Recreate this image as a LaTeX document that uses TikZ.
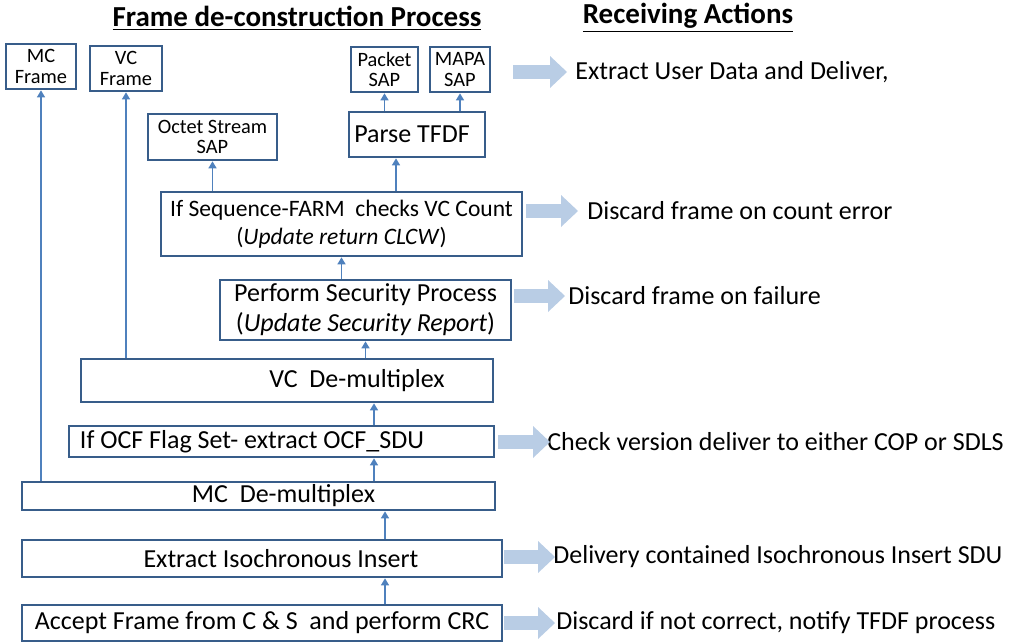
\documentclass[tikz,border=0pt]{standalone}
\usepackage{fontspec}
\setmainfont{Carlito}
\usetikzlibrary{calc,arrows.meta}
\definecolor{boxblue}{RGB}{56,93,138}
\definecolor{lineblue}{RGB}{79,129,189}
\definecolor{fatblue}{RGB}{185,205,229}
\def\bigtext{\fontsize{14.8}{17}\selectfont}
\def\smalltext{\fontsize{11.6}{11.8}\selectfont}
\tikzset{
  box/.style={draw=boxblue, line width=1.5pt, inner sep=0pt, align=center, font=\bigtext},
  sapbox/.style={box, font=\smalltext},
  flow/.style={draw=lineblue, line width=1.1pt, -{Triangle[length=4pt,width=4.5pt]}},
  fat/.style={draw=fatblue, line width=0.29cm, -{Triangle[length=0.34cm,width=0.64cm,line width=0pt 0]}},
  act/.style={anchor=west, inner sep=0pt, font=\bigtext},
  heading/.style={font=\fontsize{16.5}{18}\selectfont\bfseries}
}
\begin{document}
\begin{tikzpicture}[x=0.02cm, y=-0.02cm]
  \useasboundingbox (0,0) rectangle (1011,643);
  \node[heading] (h1) at (297,18) {\underline{Frame de-construction Process}};
  \node[heading] (h2) at (688,18) {\underline{Receiving Actions}};

  \node[box, minimum width=9.6cm, minimum height=0.72cm] (acc) at (262,623) {Accept Frame from C \& S\ \ and perform CRC};
  \node[box, minimum width=9.6cm, minimum height=0.74cm] (iso) at (262,558.5) {\hspace*{0.76cm}Extract Isochronous Insert};
  \node[box, minimum width=9.46cm, minimum height=0.56cm] (mcd) at (258.5,496) {\hspace*{1cm}MC\ \ De-multiplex};
  \node[box, minimum width=8.5cm, minimum height=0.62cm] (ocf) at (281.5,441.5) {If OCF Flag Set- extract OCF\_SDU\hspace*{1.18cm}};
  \node[box, minimum width=8.24cm, minimum height=0.86cm] (vcd) at (287,380.5) {\hspace*{2.8cm}VC\ \ De-multiplex};
  \node[box, minimum width=5.82cm, minimum height=1.2cm, font=\fontsize{14.8}{17}\selectfont] (sec) at (365.5,310) {Perform Security Process\\(\textit{Update Security Report})};
  \node[box, minimum width=7.22cm, minimum height=1.28cm, font=\fontsize{13.4}{16}\selectfont] (farm) at (341.5,224) {If Sequence-FARM\ \ checks VC Count\\(\textit{Update return CLCW})};
  \node[sapbox, minimum width=2.58cm, minimum height=0.92cm] (octet) at (212.5,137) {Octet Stream\\SAP};
  \node[box, minimum width=2.72cm, minimum height=0.9cm] (parse) at (417,134.5) {Parse TFDF\hspace*{0.2cm}};
  \node[sapbox, minimum width=1.34cm, minimum height=0.9cm] (pkt) at (384.5,69.5) {Packet\\SAP};
  \node[sapbox, minimum width=1.2cm, minimum height=0.9cm] (mapa) at (460,69.5) {MAPA\\SAP};
  \node[sapbox, minimum width=1.4cm, minimum height=0.9cm] (mcf) at (41,66.5) {MC\\Frame};
  \node[sapbox, minimum width=1.44cm, minimum height=0.9cm] (vcf) at (126,68.5) {VC\\Frame};

  \coordinate (up1) at (374,0);
  \coordinate (up2) at (385,0);
  \coordinate (up3) at (396,0);
  \draw[flow] (acc.north -| up2) -- (iso.south -| up2);
  \draw[flow] (iso.north -| up2) -- (mcd.south -| up2);
  \draw[flow] (mcd.north -| up1) -- (ocf.south -| up1);
  \draw[flow] (ocf.north -| up1) -- (vcd.south -| up1);
  \draw[flow] (vcd.north -| sec) -- (sec.south);
  \draw[flow] (sec.north -| farm) -- (farm.south);
  \draw[flow] (farm.north -| octet) -- (octet.south);
  \draw[flow] (farm.north -| up3) -- (parse.south -| up3);
  \draw[flow] (parse.north -| pkt) -- (pkt.south);
  \draw[flow] (parse.north -| mapa) -- (mapa.south);
  \draw[flow] (vcd.north -| vcf) -- (vcf.south);
  \draw[flow] (mcd.north -| mcf) -- (mcf.south);

  \node[act] (act1) at (575,72) {Extract User Data and Deliver,};
  \node[act] (act2) at (587,211) {Discard frame on count error};
  \node[act] (act3) at (568,296) {Discard frame on failure};
  \node[act] (act4) at (547,442) {Check version deliver to either COP or SDLS};
  \node[act] (act5) at (553,557) {Delivery contained Isochronous Insert SDU};
  \node[act] (act6) at (556,623) {Discard if not correct, notify TFDF process};

  \draw[fat, shorten <=0.44cm, shorten >=0.16cm] (mapa.east |- act1.west) -- (act1.west);
  \draw[fat, shorten <=0.06cm, shorten >=0.18cm] (farm.east |- act2.west) -- (act2.west);
  \draw[fat, shorten <=0.04cm, shorten >=0.06cm] (sec.east |- act3.west) -- (act3.west);
  \draw[fat, shorten <=0.06cm, shorten >=-0.06cm] (ocf.east |- act4.west) -- (act4.west);
  \draw[fat, shorten <=0.02cm, shorten >=-0.04cm] (iso.east |- act5.west) -- (act5.west);
  \draw[fat, shorten <=0.02cm, shorten >=0.02cm] (acc.east |- act6.west) -- (act6.west);
\end{tikzpicture}
\end{document}
